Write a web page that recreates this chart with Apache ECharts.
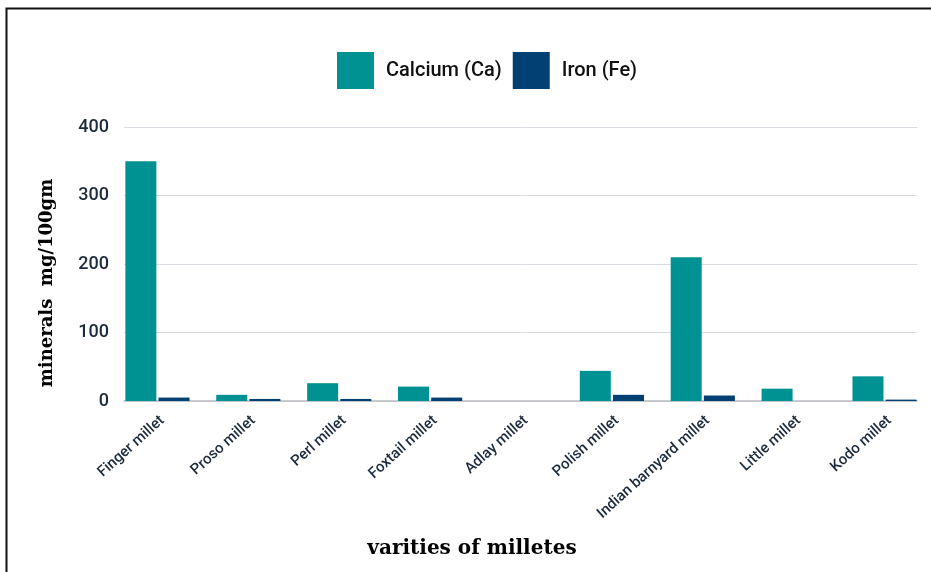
<!DOCTYPE html>
<html>
<head>
<meta charset="utf-8">
<script src="https://cdn.jsdelivr.net/npm/echarts@6/dist/echarts.min.js"></script>
<style>
  html, body { margin: 0; padding: 0; background: #ffffff; }
  #chart { width: 931px; height: 572px; }
</style>
</head>
<body>
<div id="chart"></div>
<script>
// Millet varieties and their mineral content (mg per 100 g)
const categories = ['Finger millet', 'Proso millet', 'Perl millet', 'Foxtail millet', 'Adlay millet',
  'Polish millet', 'Indian barnyard millet', 'Little millet', 'Kodo millet'];
const calcium = [350, 9, 26, 21, 0, 44, 210, 18, 36];
const iron = [5, 3, 3, 5, 0, 9, 8, 0, 2];
const yTicks = [0, 100, 200, 300, 400];

const sans = "Roboto, 'Noto Sans', sans-serif";
const serif = "'DejaVu Serif', 'Liberation Serif', serif";
const textColor = '#1c2b3c';

const chart = echarts.init(document.getElementById('chart'), null, { renderer: 'canvas' });

chart.setOption({
  animation: false,
  backgroundColor: '#ffffff',
  color: ['#009193', '#023f73'],
  legend: {
    left: 337,
    top: 52,
    padding: 0,
    itemWidth: 37,
    itemHeight: 37,
    itemGap: 11,
    icon: 'rect',
    textStyle: { fontFamily: sans, fontSize: 20, fontWeight: 500, color: '#111', padding: [0, 0, 0, 7] },
    data: ['Calcium (Ca)', 'Iron (Fe)']
  },
  grid: [
    // bars
    { left: 112, right: 1, top: 127, bottom: 171 },
    // frame with ticks and gridlines
    { left: 124, right: 14, top: 127, bottom: 171 }
  ],
  xAxis: [
    {
      type: 'category',
      gridIndex: 0,
      data: categories,
      axisLine: { show: false },
      axisTick: { show: false },
      axisLabel: {
        rotate: 42,
        interval: 0,
        margin: 12,
        verticalAlign: 'top',
        fontFamily: sans,
        fontSize: 15,
        fontWeight: 500,
        color: textColor
      }
    },
    {
      type: 'value',
      gridIndex: 1,
      min: 0,
      max: 1,
      axisLine: { show: true, lineStyle: { color: '#b9bcc0', width: 1.5 } },
      axisTick: { show: false },
      axisLabel: { show: false },
      splitLine: { show: false }
    }
  ],
  yAxis: [
    {
      type: 'value',
      gridIndex: 0,
      min: 0,
      max: 400,
      interval: 100,
      axisLine: { show: false },
      axisTick: { show: false },
      axisLabel: { show: false },
      splitLine: { show: false }
    },
    {
      type: 'value',
      gridIndex: 1,
      min: yTicks[0],
      max: yTicks[yTicks.length - 1],
      interval: 100,
      axisLine: { show: false },
      axisTick: { show: false },
      axisLabel: {
        margin: 15,
        fontFamily: sans,
        fontSize: 18,
        fontWeight: 500,
        color: textColor
      },
      splitLine: { lineStyle: { color: '#d9dde2', width: 1 } }
    }
  ],
  series: [
    {
      name: 'Calcium (Ca)',
      type: 'bar',
      xAxisIndex: 0,
      yAxisIndex: 0,
      data: calcium,
      barWidth: 31,
      barGap: '7%'
    },
    {
      name: 'Iron (Fe)',
      type: 'bar',
      xAxisIndex: 0,
      yAxisIndex: 0,
      data: iron,
      barWidth: 31,
      barGap: '7%'
    }
  ],
  graphic: [
    {
      type: 'rect',
      left: 4,
      top: 6,
      shape: { width: 940, height: 580 },
      style: { fill: 'none', stroke: '#111', lineWidth: 2 },
      silent: true
    },
    // y-axis title
    {
      type: 'text',
      x: 47,
      y: 283,
      rotation: Math.PI / 2,
      style: {
        text: 'minerals  mg/100gm',
        fontFamily: serif,
        fontSize: 18,
        fontWeight: 'bold',
        fill: '#000',
        textAlign: 'center',
        textVerticalAlign: 'middle'
      }
    },
    // x-axis title
    {
      type: 'text',
      x: 472,
      y: 549,
      style: {
        text: 'varities of milletes',
        fontFamily: serif,
        fontSize: 20,
        fontWeight: 'bold',
        fill: '#000',
        textAlign: 'center',
        textVerticalAlign: 'middle'
      }
    }
  ]
});
</script>
</body>
</html>
